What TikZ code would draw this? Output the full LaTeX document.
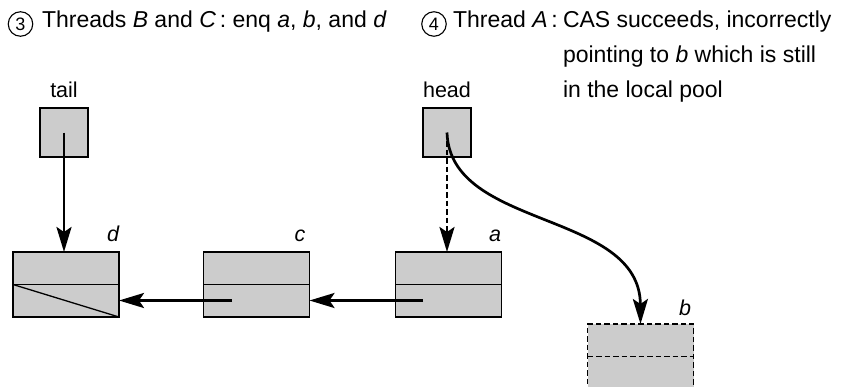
\documentclass[tikz,border=0pt]{standalone}
\usepackage{fontspec}
\setmainfont{Liberation Sans}
\usetikzlibrary{arrows.meta}
\definecolor{boxgray}{gray}{0.8}
\begin{document}
\begin{tikzpicture}[x=1pt,y=-1pt,
  every node/.style={inner sep=0pt, outer sep=0pt},
  txt/.style={font=\fontsize{23}{35}\selectfont, anchor=base west},
  lbl/.style={font=\fontsize{21.5}{24}\selectfont\itshape, anchor=base},
  plbl/.style={font=\fontsize{21.5}{24}\selectfont, anchor=base},
  num/.style={draw, circle, line width=1.1pt, minimum size=24.5pt, font=\fontsize{18}{18}\selectfont},
  ptrbox/.style={draw, fill=boxgray, line width=1.3pt, minimum width=48pt, minimum height=49pt},
  cell/.style={draw, fill=boxgray, line width=1.3pt, minimum width=106pt, minimum height=65pt},
  ptr/.style={line width=2.7pt, -{Stealth[length=25pt,width=15pt,inset=5pt]}},
  dsh/.style={dash pattern=on 5.5pt off 3pt},
]
\useasboundingbox (0,0) rectangle (855,386);
% titles
\node[num] (n3) at (20.5,24) {3};
\node[txt] (t3) at (42,27) {Threads \textit{B} and \textit{C}\,: enq \textit{a}, \textit{b}, and \textit{d}};
\node[num] (n4) at (434,24) {4};
\node[txt] (t4) at (453,27) {Thread \textit{A}\,:};
\node[txt] (t4a) at (563,27) {CAS succeeds, incorrectly};
\node[txt] (t4b) at (563,62) {pointing to \textit{b} which is still};
\node[txt] (t4c) at (563,97) {in the local pool};
% pointer boxes
\node[plbl] (tl) at (64,97) {tail};
\node[plbl] (hl) at (447,97) {head};
\node[ptrbox] (tailbox) at (64,132.5) {};
\node[ptrbox] (headbox) at (447,132.5) {};
% cells
\node[cell] (d) at (66,284.5) {};
\node[cell] (c) at (256.5,284.5) {};
\node[cell] (a) at (448.5,284.5) {};
\node[cell, dsh] (b) at (640.5,356.5) {};
\draw[line width=1.3pt] (d.west) -- (d.east);
\draw[line width=1.3pt] (d.west) -- (d.south east);
\draw[line width=1.3pt] (c.west) -- (c.east);
\draw[line width=1.3pt] (a.west) -- (a.east);
\draw[line width=1.3pt, dsh] (b.west) -- (b.east);
% labels
\node[lbl] (ld) at (113,241) {d};
\node[lbl] (lc) at (300,241) {c};
\node[lbl] (la) at (495,241) {a};
\node[lbl] (lb) at (685,315) {b};
% pointers
\coordinate (cp) at (232,300.5);
\coordinate (ap) at (423,300.5);
\draw[ptr] (tailbox.center) -- (tailbox.center |- d.north);
\draw[ptr] (cp) -- (cp -| d.east);
\draw[ptr] (ap) -- (ap -| c.east);
\draw[ptr, dsh] (headbox.center) -- (headbox.center |- a.north);
\draw[ptr] (headbox.center) .. controls (450,230) and (640,210) .. (b.north);
\end{tikzpicture}
\end{document}
